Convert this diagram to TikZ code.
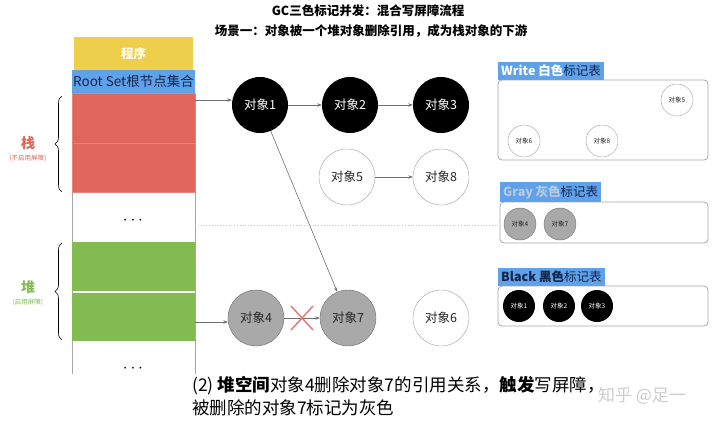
\documentclass[tikz,border=0pt]{standalone}
\usepackage{fontspec}
\setmainfont{Noto Sans CJK SC}
\usetikzlibrary{arrows.meta,decorations.pathreplacing}

\definecolor{progyellow}{HTML}{EDCF4C}
\definecolor{rootblue}{HTML}{5FA2EA}
\definecolor{stackred}{HTML}{E0655A}
\definecolor{heapgreen}{HTML}{82BB52}
\definecolor{objgrayfill}{HTML}{A9A9A9}
\definecolor{linkgray}{HTML}{6E6E6E}
\definecolor{navytext}{HTML}{14254A}
\definecolor{fadetext}{HTML}{B9CAE0}
\definecolor{crossred}{HTML}{E27670}

\begin{document}
\begin{tikzpicture}[
    x=1pt, y=-1pt, % pixel-like units, y grows downward
    >={Stealth[length=4.5pt,width=3.5pt]}, % default arrow tip
    obj/.style={circle, minimum size=56pt, inner sep=0pt, font=\fontsize{12.5}{13}\selectfont},
    objblack/.style={obj, fill=black, text=white},
    objwhite/.style={obj, draw=gray!75, fill=white, text=black!85},
    objgray/.style={obj, draw=gray!85!black, fill=objgrayfill, text=black!85},
    mini/.style={minimum size=32pt, font=\fontsize{6.5}{7}\selectfont},
    block/.style={inner sep=0pt, minimum width=123pt},
    tablabel/.style={fill=rootblue, inner sep=3pt, anchor=south west, font=\fontsize{12.5}{13}\selectfont},
    panel/.style={draw=gray!70, rounded corners=4pt, line width=0.8pt},
    link/.style={->, draw=linkgray, line width=0.6pt},
    cross/.style={crossred, line width=1.4pt}
]
    \useasboundingbox (0,0) rectangle (720,424);

    % Titles
    \node[font=\bfseries\fontsize{12.5}{13}\selectfont] (title) at (368,11) {GC三色标记并发：混合写屏障流程};
    \node[font=\bfseries\fontsize{12.5}{13}\selectfont] (subtitle) at (371,31) {场景一：对象被一个堆对象删除引用，成为栈对象的下游};

    % Left column: program, root set, stack, heap
    \draw[gray!70, line width=0.8pt] (72,93) -- (72,374);
    \draw[gray!70, line width=0.8pt] (195,93) -- (195,374);
    \node[block, fill=progyellow, minimum width=119pt, minimum height=33pt, text=white, font=\bfseries\fontsize{12.5}{13}\selectfont] (prog) at (133.5,53.5) {程序};
    \node[block, fill=rootblue, minimum height=23pt, text=navytext, font=\fontsize{13.5}{14}\selectfont] (rootset) at (133.5,81.5) {Root Set根节点集合};
    \node[block, fill=stackred, draw=stackred!80!white, minimum height=50pt] (stack1) at (133.5,118) {};
    \node[block, fill=stackred, draw=stackred!80!white, minimum height=49pt] (stack2) at (133.5,167.5) {};
    \node[block, fill=heapgreen, minimum height=49pt] (heap1) at (133.5,266.5) {};
    \node[block, fill=heapgreen, minimum height=48pt] (heap2) at (133.5,317) {};
    \node[font=\fontsize{17}{17}\selectfont] (dotsA) at (133,221) {$\cdots$};
    \node[font=\fontsize{17}{17}\selectfont] (dotsB) at (133,369) {$\cdots$};

    % Braces and region labels
    \draw[decorate, decoration={brace, amplitude=7pt}, line width=0.6pt] (62,192) -- (62,96);
    \draw[decorate, decoration={brace, amplitude=7pt}, line width=0.6pt] (62,340) -- (62,243);
    \node[text=stackred, font=\bfseries\fontsize{14}{14}\selectfont] (stacklbl) at (28,143) {栈};
    \node[text=stackred, font=\fontsize{6.5}{7}\selectfont] (stacknote) at (28,158) {(不启用屏障)};
    \node[text=heapgreen, font=\bfseries\fontsize{14}{14}\selectfont] (heaplbl) at (28,287) {堆};
    \node[text=heapgreen, font=\fontsize{6.5}{7}\selectfont] (heapnote) at (28,302) {(启用屏障)};

    % Dotted boundary between stack and heap
    \draw[gray!45, dotted, line width=0.8pt] (195,225) -- (500,225);

    % Object graph
    \node[objblack] (obj1) at (260,105) {对象1};
    \node[objblack] (obj2) at (350,105) {对象2};
    \node[objblack] (obj3) at (441,105) {对象3};
    \node[objwhite] (obj5) at (347,177) {对象5};
    \node[objwhite] (obj8) at (441,177) {对象8};
    \node[objgray]  (obj4) at (256,318) {对象4};
    \node[objgray]  (obj7) at (348,318) {对象7};
    \node[objwhite] (obj6) at (441,318) {对象6};

    \draw[link] (stack1.east |- 0,100) -- (obj1.west |- 0,100);
    \draw[link] (heap2.east |- 0,322) -- (obj4.west |- 0,322);
    \draw[link] (obj1) -- (obj2);
    \draw[link] (obj2) -- (obj3);
    \draw[link] (obj5) -- (obj8);
    \draw[link] (obj1) -- (obj7);
    \draw[link] (obj4) -- (obj7) coordinate[midway] (cut);

    % Deleted reference
    \draw[cross] ([shift={(-11,-12)}]cut) -- ([shift={(11,12)}]cut);
    \draw[cross] ([shift={(-11,12)}]cut) -- ([shift={(11,-12)}]cut);

    % White mark table
    \draw[panel] (498,80) rectangle (708,160);
    \node[tablabel] (whitelbl) at (498,80) {\textcolor{white}{\bfseries Write 白色}\textcolor{navytext}{标记表}};
    \node[objwhite, mini] (w5) at (677,100) {对象5};
    \node[objwhite, mini] (w6) at (524,141) {对象6};
    \node[objwhite, mini] (w8) at (602,141) {对象8};

    % Gray mark table
    \draw[panel] (500,202) rectangle (708,243);
    \node[tablabel] (graylbl) at (500,202) {\textcolor{fadetext}{\bfseries Gray 灰色}\textcolor{navytext}{标记表}};
    \node[objgray, mini] (g4) at (520,224) {对象4};
    \node[objgray, mini] (g7) at (560,224) {对象7};

    % Black mark table
    \draw[panel] (498,286) rectangle (708,326);
    \node[tablabel] (blacklbl) at (498,286) {\textcolor{navytext}{\bfseries Black 黑色}\textcolor{navytext}{标记表}};
    \node[objblack, mini] (b1) at (519,306) {对象1};
    \node[objblack, mini] (b2) at (559,306) {对象2};
    \node[objblack, mini] (b3) at (597,306) {对象3};

    % Caption
    \node[anchor=west, align=left, font=\fontsize{17.5}{23}\selectfont, inner sep=0pt] (caption) at (192,396)
        {(2) \textbf{堆空间}对象4删除对象7的引用关系，\textbf{触发}写屏障，\\被删除的对象7标记为灰色};
    \node[text=gray!40, font=\fontsize{17}{17}\selectfont] (mark) at (642,396) {知乎 @足一};

\end{tikzpicture}
\end{document}
